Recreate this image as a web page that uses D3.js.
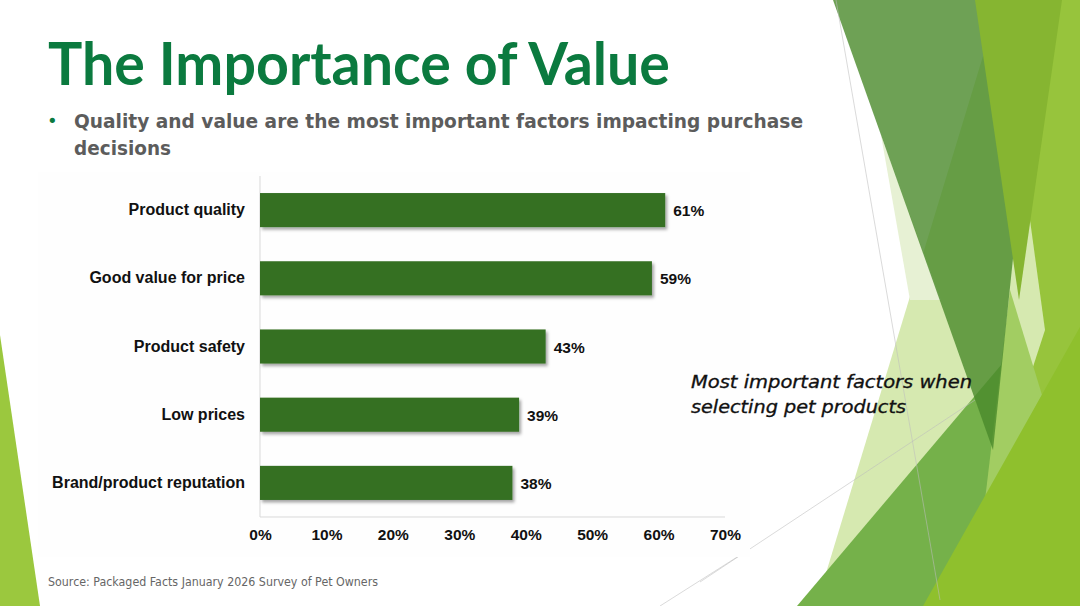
<!DOCTYPE html>
<html>
<head>
<meta charset="utf-8">
<script src="https://cdn.jsdelivr.net/npm/d3@7"></script>
<style>
  body { margin: 0; background: #fff; }
  svg { display: block; }
</style>
</head>
<body>
<div id="slide"></div>
<script>
const categories = ["Product quality", "Good value for price", "Product safety", "Low prices", "Brand/product reputation"];
const values = [61, 59, 43, 39, 38];
const ticks = [0, 10, 20, 30, 40, 50, 60, 70];

const W = 1080, H = 606;
const svg = d3.select("#slide").append("svg")
  .attr("width", W)
  .attr("height", H);

const defs = svg.append("defs");
const shadow = defs.append("filter").attr("id", "shadow")
  .attr("x", "-5%").attr("y", "-20%").attr("width", "115%").attr("height", "160%");
shadow.append("feDropShadow")
  .attr("dx", 2).attr("dy", 2.5)
  .attr("stdDeviation", 1.6)
  .attr("flood-color", "#000")
  .attr("flood-opacity", 0.35);

// background facets (theme decoration)
const facets = [
  { pts: [[1000,0],[1080,0],[1080,606],[930,606]], fill: "#97c43c" },
  { pts: [[1000,0],[1045,330],[955,606],[816,606]], fill: "#d6e9b0" },
  { pts: [[881,135],[910,300],[941,300]], fill: "#e7f1d4" },
  { pts: [[797,606],[1018,345],[1000,606]], fill: "#75b14a" },
  { pts: [[1010,290],[1042,395],[985,500]], fill: "#a2cd62" },
  { pts: [[1080,327],[1080,606],[923,606]], fill: "#8fc02d" },
  { pts: [[833,0],[1040,0],[993,450]], fill: "#4a8a2a", opacity: 0.8 },
  { pts: [[975,0],[1062,0],[1019,300]], fill: "#86b531" },
  { pts: [[0,335],[40,606],[0,606]], fill: "#9bc83e" }
];
svg.append("g").selectAll("polygon")
  .data(facets)
  .join("polygon")
  .attr("points", d => d.pts.map(p => p.join(",")).join(" "))
  .attr("fill", d => d.fill)
  .attr("opacity", d => d.opacity || 1);

const hairlines = [
  [[836,0],[940,600]],
  [[700,582],[975,400]],
  [[660,606],[745,552]]
];
svg.append("g").selectAll("line")
  .data(hairlines)
  .join("line")
  .attr("x1", d => d[0][0]).attr("y1", d => d[0][1])
  .attr("x2", d => d[1][0]).attr("y2", d => d[1][1])
  .attr("stroke", "#bdbdbd")
  .attr("stroke-opacity", 0.7)
  .attr("stroke-width", 0.8);

// title + bullet
svg.append("text")
  .attr("x", 48).attr("y", 85)
  .attr("font-family", "Lato, Open Sans, sans-serif")
  .attr("font-weight", "bold")
  .attr("font-size", 59)
  .attr("textLength", 622)
  .attr("lengthAdjust", "spacingAndGlyphs")
  .attr("fill", "#0b7a3f")
  .text("The Importance of Value");

svg.append("text")
  .attr("x", 47).attr("y", 127)
  .attr("font-family", "DejaVu Sans, sans-serif")
  .attr("font-size", 18)
  .attr("fill", "#0b7a3f")
  .text("•");

const sub = svg.append("text")
  .attr("font-family", "DejaVu Sans Condensed, DejaVu Sans, sans-serif")
  .attr("font-weight", "bold")
  .attr("font-size", 20)
  .attr("fill", "#5c5c5c");
sub.append("tspan").attr("x", 74).attr("y", 128)
  .attr("textLength", 729).attr("lengthAdjust", "spacingAndGlyphs")
  .text("Quality and value are the most important factors impacting purchase");
sub.append("tspan").attr("x", 74).attr("y", 155)
  .attr("textLength", 97).attr("lengthAdjust", "spacingAndGlyphs")
  .text("decisions");

// chart
const x = d3.scaleLinear().domain([0, 70]).range([260, 725]);
const y = d3.scaleBand().domain(categories).range([176, 517])
  .paddingInner(0.5).paddingOuter(0.25);

const chart = svg.append("g");

chart.append("rect")
  .attr("x", 38).attr("y", 172)
  .attr("width", 712).attr("height", 385)
  .attr("fill", "#fefefe");

chart.append("line")
  .attr("x1", x(0)).attr("x2", x(0))
  .attr("y1", 176).attr("y2", 517)
  .attr("stroke", "#d9d9d9");
chart.append("line")
  .attr("x1", x(0)).attr("x2", x(70))
  .attr("y1", 517).attr("y2", 517)
  .attr("stroke", "#d9d9d9");

const rows = categories.map((c, i) => ({ cat: c, val: values[i] }));

chart.selectAll("rect.bar")
  .data(rows)
  .join("rect")
  .attr("class", "bar")
  .attr("x", x(0))
  .attr("y", d => y(d.cat))
  .attr("width", d => x(d.val) - x(0))
  .attr("height", y.bandwidth())
  .attr("fill", "#346f22")
  .attr("filter", "url(#shadow)");

chart.selectAll("text.cat")
  .data(rows)
  .join("text")
  .attr("class", "cat")
  .attr("x", 245)
  .attr("y", d => y(d.cat) + y.bandwidth() / 2 + 5)
  .attr("text-anchor", "end")
  .attr("font-family", "Liberation Sans, Arial, sans-serif")
  .attr("font-weight", "bold")
  .attr("font-size", 16)
  .attr("fill", "#111")
  .text(d => d.cat);

chart.selectAll("text.val")
  .data(rows)
  .join("text")
  .attr("class", "val")
  .attr("x", d => x(d.val) + 8)
  .attr("y", d => y(d.cat) + y.bandwidth() / 2 + 6)
  .attr("font-family", "Liberation Sans, Arial, sans-serif")
  .attr("font-weight", "bold")
  .attr("font-size", 15.5)
  .attr("fill", "#111")
  .text(d => d.val + "%");

const xAxis = chart.append("g")
  .attr("transform", "translate(0,517)")
  .call(d3.axisBottom(x).tickValues(ticks).tickSize(0).tickPadding(12).tickFormat(d => d + "%"));
xAxis.select(".domain").remove();
xAxis.selectAll("text")
  .attr("font-family", "Liberation Sans, Arial, sans-serif")
  .attr("font-weight", "bold")
  .attr("font-size", 15.5)
  .attr("fill", "#111");

// annotation
const note = svg.append("text")
  .attr("font-family", "DejaVu Sans, sans-serif")
  .attr("font-style", "italic")
  .attr("font-size", 18)
  .attr("fill", "#111")
  .attr("stroke", "#111")
  .attr("stroke-width", 0.35);
note.append("tspan").attr("x", 691).attr("y", 388)
  .attr("textLength", 281).attr("lengthAdjust", "spacingAndGlyphs")
  .text("Most important factors when");
note.append("tspan").attr("x", 691).attr("y", 413)
  .attr("textLength", 215).attr("lengthAdjust", "spacingAndGlyphs")
  .text("selecting pet products");

svg.append("text")
  .attr("x", 48).attr("y", 586)
  .attr("font-family", "DejaVu Sans, sans-serif")
  .attr("font-size", 12)
  .attr("textLength", 330)
  .attr("lengthAdjust", "spacingAndGlyphs")
  .attr("fill", "#666")
  .text("Source: Packaged Facts January 2026 Survey of Pet Owners");
</script>
</body>
</html>
